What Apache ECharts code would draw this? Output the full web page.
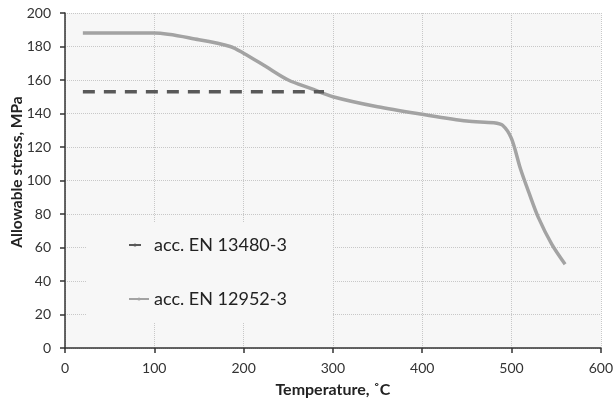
<!DOCTYPE html>
<html>
<head>
<meta charset="utf-8">
<script src="https://cdn.jsdelivr.net/npm/echarts@6/dist/echarts.min.js"></script>
<style>
  html, body { margin: 0; padding: 0; background: #fff; }
  #chart { width: 616px; height: 403px; }
</style>
</head>
<body>
<div id="chart"></div>
<script>
// EN 13480-3 : constant allowable stress up to where the curves meet
const en13480 = [[20, 153], [290, 153]];
// EN 12952-3 : allowable stress vs temperature
const en12952 = [
  [20, 188], [100, 188], [150, 184], [185, 180], [200, 176], [225, 168],
  [250, 160], [275, 155], [300, 150], [350, 144], [400, 139.5], [450, 135.5],
  [480, 134.5], [490, 133], [500, 125], [510, 107], [520, 92], [530, 78],
  [545, 62], [560, 50]
];
const seriesNames = ['acc. EN 13480-3', 'acc. EN 12952-3'];
const yTitle = 'Allowable stress, MPa';
const xTitle = 'Temperature, ˚C';

const font = 'Lato, "Open Sans", sans-serif';
const plotBg = '#f7f7f7';

const chart = echarts.init(document.getElementById('chart'));

chart.setOption({
  animation: false,
  backgroundColor: '#fff',
  textStyle: { fontFamily: font },
  grid: {
    left: 65, right: 13, top: 13, bottom: 53,
    show: true, backgroundColor: plotBg, borderWidth: 0
  },
  graphic: [
    {
      // legend box hides the gridlines behind it
      type: 'rect', z: 1, silent: true,
      shape: { x: 87, y: 222, width: 245, height: 101 },
      style: { fill: plotBg }
    },
    {
      // y title sits a bit above the plot's middle, like the original
      type: 'text', x: 17, y: 172, rotation: Math.PI / 2, silent: true,
      style: {
        text: yTitle, fontSize: 15.5, fontWeight: 'bold', fill: '#222',
        fontFamily: font, align: 'center', verticalAlign: 'middle'
      }
    }
  ],
  legend: [
    {
      data: [seriesNames[0]], left: 128, top: 236, padding: 0,
      itemWidth: 12, itemHeight: 4,
      textStyle: { fontSize: 18, color: '#222', fontFamily: font, padding: [0, 0, 0, 8] }
    },
    {
      data: [seriesNames[1]], left: 128, top: 290, padding: 0,
      itemWidth: 20, itemHeight: 4,
      textStyle: { fontSize: 18, color: '#222', fontFamily: font }
    }
  ],
  xAxis: {
    type: 'value', min: 0, max: 600, interval: 100,
    name: xTitle, nameLocation: 'middle', nameGap: 34,
    nameTextStyle: { fontSize: 16, fontWeight: 'bold', color: '#222', fontFamily: font },
    axisLine: { lineStyle: { color: '#333', width: 1.5 } },
    axisTick: { show: true, length: 5, lineStyle: { color: '#333', width: 1.5 } },
    axisLabel: { fontSize: 14, color: '#333', margin: 13, fontFamily: font },
    splitLine: { show: true, lineStyle: { color: '#c8c8c8', type: 'dotted', width: 1 } }
  },
  yAxis: {
    type: 'value', min: 0, max: 200, interval: 20,
    axisLine: { show: true, lineStyle: { color: '#333', width: 1.5 } },
    axisTick: { show: true, length: 5, lineStyle: { color: '#333', width: 1.5 } },
    axisLabel: { fontSize: 14, color: '#333', margin: 14, fontFamily: font },
    splitLine: { show: true, lineStyle: { color: '#c8c8c8', type: 'dotted', width: 1 } }
  },
  series: [
    {
      name: seriesNames[0], type: 'line', data: en13480,
      symbol: 'none', z: 3,
      lineStyle: { color: '#595959', width: 3.5, type: [12, 9] },
      itemStyle: { color: '#595959' }
    },
    {
      name: seriesNames[1], type: 'line', data: en12952,
      symbol: 'none', smooth: 0.3, z: 2,
      lineStyle: { color: '#a3a3a3', width: 3.5 },
      itemStyle: { color: '#a3a3a3' }
    }
  ]
});
</script>
</body>
</html>
